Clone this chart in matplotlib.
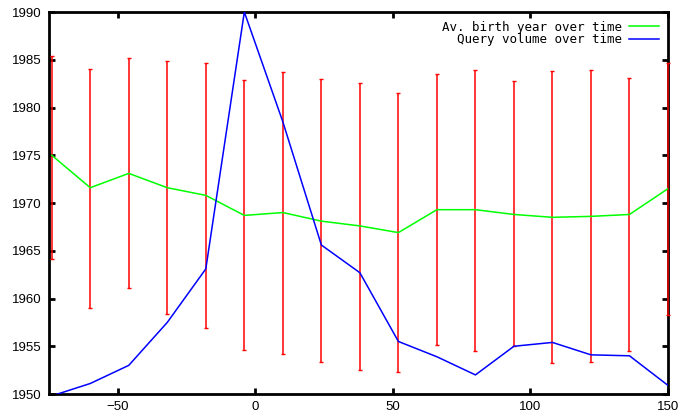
import matplotlib.pyplot as plt
import numpy as np

# time offsets
x = [-74, -60, -46, -32, -18, -4, 10, 24, 38, 52, 66, 80, 94, 108, 122, 136, 150]

# average birth year (green)
birth_year = [1975.0, 1971.6, 1973.1, 1971.6, 1970.8, 1968.7, 1969.0, 1968.1, 1967.6,
              1966.9, 1969.3, 1969.3, 1968.8, 1968.5, 1968.6, 1968.8, 1971.5]

# error bar ends (red)
err_high = [1985.4, 1984.0, 1985.2, 1984.9, 1984.7, 1982.9, 1983.7, 1983.0, 1982.6,
            1981.5, 1983.5, 1983.9, 1982.8, 1983.8, 1983.9, 1983.1, 1984.7]
err_low = [1964.1, 1959.0, 1961.1, 1958.4, 1956.9, 1954.6, 1954.2, 1953.3, 1952.5,
           1952.3, 1955.1, 1954.5, 1955.0, 1953.2, 1953.3, 1954.5, 1958.3]

# query volume, scaled onto the same axis (blue)
query_volume = [1949.8, 1951.1, 1953.0, 1957.5, 1963.1, 1990.0, 1978.5, 1965.6, 1962.7,
                1955.5, 1953.9, 1952.0, 1955.0, 1955.4, 1954.1, 1954.0, 1950.9]

fig = plt.figure(figsize=(6.94, 4.15), dpi=100)
ax = fig.add_axes([49/694, 1-394/415, (668-49)/694, (394-12)/415])

by = np.array(birth_year)
yerr = [by - np.array(err_low), np.array(err_high) - by]
ax.errorbar(x, birth_year, yerr=yerr, fmt='none', ecolor='#ff0000',
            elinewidth=1.1, capsize=1.6, capthick=1.0, zorder=2.6, clip_on=False)
ax.plot(x, birth_year, color='#00ff00', lw=1.1, label="Av. birth year over time", zorder=3)
ax.plot(x, query_volume, color='#0000ff', lw=1.1, label="Query volume over time", zorder=4)

ax.set_xlim(-75, 150)
ax.set_ylim(1950, 1990)
ax.set_xticks([-50, 0, 50, 100, 150])
ax.set_yticks(np.arange(1950, 1991, 5))

for s in ax.spines.values():
    s.set_linewidth(2)
ax.tick_params(direction='in', length=4, width=2, top=True, right=True,
               labelsize=9.5, pad=5)
for lab in ax.get_xticklabels() + ax.get_yticklabels():
    lab.set_fontfamily('Liberation Sans')

leg = ax.legend(loc='upper right', markerfirst=False, frameon=False,
                prop={'family': 'DejaVu Sans Mono', 'size': 9},
                handlelength=2.4, handletextpad=0.6, labelspacing=-0.05,
                borderaxespad=0.6, borderpad=0.1)
for t in leg.get_texts():
    t.set_ha('right')

fig.savefig("out.png", dpi=100)
